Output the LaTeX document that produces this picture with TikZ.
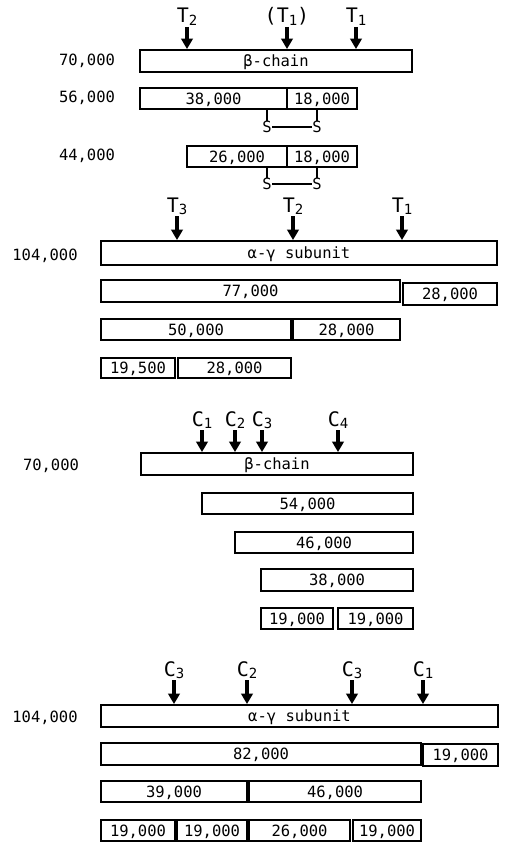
\documentclass[tikz,border=0pt]{standalone}
\usepackage{fontspec}
\setmainfont{DejaVu Sans Mono}
\newfontfamily\monofont{DejaVu Sans Mono}
\usetikzlibrary{arrows.meta}
\newcommand\numfont{\monofont\fontsize{15.5pt}{17pt}\selectfont}
\newcommand\cutfont{\monofont\fontsize{20pt}{22pt}\selectfont}
\newcommand\lowsub[1]{\raisebox{-2.5pt}{\fontsize{14pt}{14pt}\selectfont #1}}
\tikzset{
  frag/.style={draw, line width=1.9pt, rectangle, inner sep=0pt, font=\numfont,
    text height=11pt, text depth=0pt},
  mw/.style={font=\numfont, inner sep=0pt, text height=11pt, text depth=0pt},
  cutlab/.style={font=\cutfont, inner sep=0pt, anchor=base},
  cut/.style={line width=3.6pt, -{Triangle[width=11.5pt,length=10.5pt]}},
  sulfur/.style={font=\numfont, inner sep=0.5pt, text height=11pt, text depth=0pt},
  ssbond/.style={line width=1.2pt},
}
\newcommand\fragbox[6]{\node[frag, minimum width={#4-#2}, minimum height={#5-#3}] (#1) at ({(#2+#4)/2},{(#3+#5)/2}) {#6};}
\newcommand\cutarrow[5]{%
  \coordinate (#1) at (#2,#3);
  \node[cutlab] (#1lab) at (#2,{#3-4}) {#5};
  \draw[cut] (#1) -- (#1 |- #4.north);}
\begin{document}
\begin{tikzpicture}[x=1pt,y=-1pt]
\useasboundingbox (0,0) rectangle (507,843);

% ---------- Section 1: beta-chain, trypsin ----------
\fragbox{betaA}{140}{50}{412}{72}{β-chain}
\fragbox{fA38}{140}{88}{287}{109}{38,000}
\fragbox{fA18}{287}{88}{357}{109}{18,000}
\fragbox{fB26}{187}{146}{287}{167}{26,000}
\fragbox{fB18}{287}{146}{357}{167}{18,000}
\node[mw] (lA70) at (87,60) {70,000};
\node[mw] (lA56) at (87,97) {56,000};
\node[mw] (lA44) at (87,155) {44,000};
\cutarrow{aT2}{187}{27}{betaA}{T\lowsub{2}}
\cutarrow{aT1p}{287}{27}{betaA}{(T\lowsub{1})}
\cutarrow{aT1}{356}{27}{betaA}{T\lowsub{1}}
\node[sulfur] (sA1) at (267,127) {S};
\node[sulfur] (sA2) at (317,127) {S};
\node[sulfur] (sB1) at (267,184) {S};
\node[sulfur] (sB2) at (317,184) {S};
\draw[ssbond] (sA1.north) -- (sA1.north |- fA38.south);
\draw[ssbond] (sA2.north) -- (sA2.north |- fA18.south);
\draw[ssbond] (sA1.east) -- (sA2.west);
\draw[ssbond] (sB1.north) -- (sB1.north |- fB26.south);
\draw[ssbond] (sB2.north) -- (sB2.north |- fB18.south);
\draw[ssbond] (sB1.east) -- (sB2.west);

% ---------- Section 2: alpha-gamma, trypsin ----------
\fragbox{agA}{101}{241}{497}{265}{α-γ subunit}
\fragbox{fC77}{101}{280}{400}{302}{77,000}
\fragbox{fC28}{403}{283}{497}{305}{28,000}
\fragbox{fD50}{101}{319}{291}{340}{50,000}
\fragbox{fD28}{293}{319}{400}{340}{28,000}
\fragbox{fE195}{101}{358}{175}{378}{19,500}
\fragbox{fE28}{178}{358}{291}{378}{28,000}
\node[mw] (lB104) at (45,255) {104,000};
\cutarrow{aT3b}{177}{216}{agA}{T\lowsub{3}}
\cutarrow{aT2b}{293}{216}{agA}{T\lowsub{2}}
\cutarrow{aT1b}{402}{216}{agA}{T\lowsub{1}}

% ---------- Section 3: beta-chain, chymotrypsin ----------
\fragbox{betaB}{141}{453}{413}{475}{β-chain}
\fragbox{fF54}{202}{493}{413}{514}{54,000}
\fragbox{fG46}{235}{532}{413}{553}{46,000}
\fragbox{fH38}{261}{569}{413}{591}{38,000}
\fragbox{fI19a}{261}{608}{333}{629}{19,000}
\fragbox{fI19b}{338}{608}{413}{629}{19,000}
\node[mw] (lC70) at (51,465) {70,000};
\cutarrow{aC1}{202}{430}{betaB}{C\lowsub{1}}
\cutarrow{aC2}{235}{430}{betaB}{C\lowsub{2}}
\cutarrow{aC3}{262}{430}{betaB}{C\lowsub{3}}
\cutarrow{aC4}{338}{430}{betaB}{C\lowsub{4}}

% ---------- Section 4: alpha-gamma, chymotrypsin ----------
\fragbox{agB}{101}{705}{498}{727}{α-γ subunit}
\fragbox{fJ82}{101}{743}{421}{765}{82,000}
\fragbox{fJ19}{423}{744}{498}{766}{19,000}
\fragbox{fK39}{101}{781}{247}{802}{39,000}
\fragbox{fK46}{249}{781}{421}{802}{46,000}
\fragbox{fL19a}{101}{820}{175}{841}{19,000}
\fragbox{fL19b}{177}{820}{247}{841}{19,000}
\fragbox{fL26}{249}{820}{350}{841}{26,000}
\fragbox{fL19c}{353}{820}{421}{841}{19,000}
\node[mw] (lD104) at (45,717) {104,000};
\cutarrow{aC3d}{174}{680}{agB}{C\lowsub{3}}
\cutarrow{aC2d}{247}{680}{agB}{C\lowsub{2}}
\cutarrow{aC3e}{352}{680}{agB}{C\lowsub{3}}
\cutarrow{aC1d}{423}{680}{agB}{C\lowsub{1}}
\end{tikzpicture}
\end{document}
